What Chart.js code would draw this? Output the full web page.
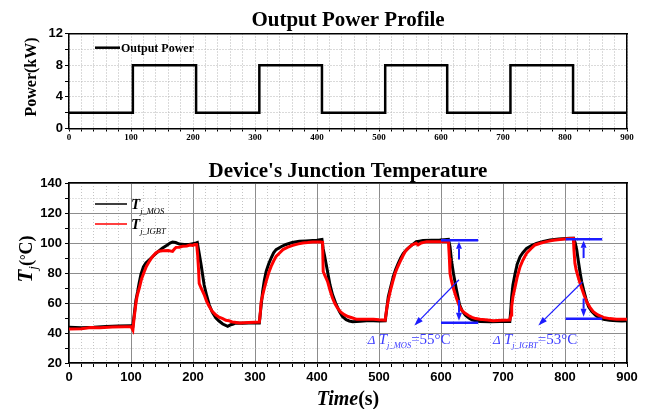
<!DOCTYPE html>
<html>
<head>
<meta charset="utf-8">
<script src="https://cdn.jsdelivr.net/npm/chart.js@4/dist/chart.umd.min.js"></script>
<style>
  html, body { margin: 0; padding: 0; background: #fff; width: 649px; height: 409px; overflow: hidden; }
  canvas { position: absolute; left: 0; }
  #power { top: 0; }
  #temp { top: 145px; }
</style>
</head>
<body>
<canvas id="power" width="649" height="145"></canvas>
<canvas id="temp" width="649" height="264"></canvas>
<script>
// ---- Output power profile (kW), step changes in time (s) ----
const powerTime = [0, 103, 103, 205, 205, 307, 307, 408, 408, 510, 510, 610, 610, 712, 712, 813, 813, 900];
const powerKW   = [2, 2, 8, 8, 2, 2, 8, 8, 2, 2, 8, 8, 2, 2, 8, 8, 2, 2];

// ---- Junction temperature of the MOSFET (°C) ----
const mosTime = [0, 20, 40, 60, 80, 100, 103, 106, 108, 110.8, 113, 116, 120, 124, 130, 135, 143, 151, 158, 163, 167, 172, 178, 186, 194, 200, 205, 207,
  210, 213, 218, 222, 226, 231, 237, 242, 248, 256, 261, 265, 269, 280, 290, 299, 307,
  309, 312.4, 315, 318, 322, 326, 330, 334, 342, 350, 360, 371.5, 382, 393, 400, 408,
  410, 412, 417, 421, 425, 430, 436, 441, 447, 452, 457.5, 470, 480, 491, 500, 510,
  512.5, 515, 519, 523, 527, 531, 535, 539, 545, 550, 555, 560, 565, 571, 585, 598, 605, 612,
  614.5, 617, 620, 625, 630, 634, 639, 645, 650, 657, 663, 680, 695, 711,
  712.5, 714, 716, 719.6, 723, 727.6, 732, 738, 746, 754, 765, 776, 790, 808, 814,
  816.5, 819, 821.5, 824.5, 827, 830, 834, 838, 843, 849, 855, 862, 872, 883, 892, 900];
const mosTemp = [43.8, 43.5, 43.8, 44.3, 44.6, 44.8, 44.5, 55, 62, 67.8, 73, 79, 84, 86.7, 89, 91, 94, 96.7, 98.5, 100, 100.7, 100.3, 99.3, 99, 99, 99.6, 100, 100.3,
  93, 85.6, 72, 65, 59, 54, 50, 48, 46, 44.4, 45.5, 46, 46.7, 46.5, 46.6, 46.7, 46.7,
  55, 67.8, 75, 81, 86, 90, 93.5, 95.6, 97.5, 99, 100.3, 101.1, 101.3, 101.6, 101.8, 102.4,
  96, 92, 81, 72, 65.6, 60, 54.4, 51, 48.9, 48, 47.5, 47.8, 48.2, 48.2, 48, 48.2,
  56, 64.2, 71, 77.6, 82.5, 86.4, 90, 93, 95.8, 97.6, 99.3, 100.9, 101.2, 101.6, 101.8, 102, 102.2, 102.4,
  97.6, 88, 79.8, 68.7, 58.7, 55, 52, 50, 48.7, 48, 47.6, 47.5, 47.6, 47.6,
  55, 64.2, 72, 79.8, 86, 90.9, 93.5, 96.4, 98.3, 99.8, 101, 102, 102.6, 103.1, 103.1,
  100, 95.3, 88, 79.8, 74, 68.7, 62.5, 57.6, 54.5, 52, 50.3, 49.1, 48.5, 48.2, 48, 48.2];

// ---- Junction temperature of the IGBT (°C) ----
const igbtTime = [0, 20, 35, 50, 70, 90, 100, 103, 105, 108, 110, 113.4, 117, 121.5, 125, 129.6, 134, 140, 145, 151, 160, 167, 170, 172.6, 178, 183, 190, 195, 199.5, 203, 206,
  207.5, 209, 210, 213, 218, 222, 226, 231, 237, 242, 248, 253, 258, 262, 264, 270, 275, 290, 300, 307,
  308.5, 310, 314, 318, 322, 326, 330, 334, 340, 345, 353, 361, 370, 377, 385, 393, 400, 406, 409,
  410, 413, 417, 421, 425, 429, 433, 438, 444, 450, 457.5, 464, 475, 491, 500, 510,
  512.5, 515, 518, 522, 526, 530, 534, 538, 542, 547, 553, 560, 563, 568, 577, 590, 598, 605, 612,
  613.5, 614.5, 617, 620, 625, 630, 634, 639, 645, 650, 656, 663, 675, 684, 698, 711,
  713, 714, 716, 719.6, 723, 727.6, 732, 738, 745, 751.6, 760, 770, 781, 792, 803, 813.5,
  814.5, 816, 818, 821, 824, 827, 831, 835, 840, 845.5, 853, 862, 872, 883, 892, 900];
const igbtTemp = [42.7, 42.8, 43.6, 43.5, 44, 44.2, 44.3, 42, 50, 60, 65, 70, 76, 81, 84.5, 87.8, 90.5, 93.3, 94.5, 94.9, 95, 94.4, 96, 97.1, 97.2, 97.8, 98, 98.6, 98.4, 99, 98.9,
  92, 82, 73, 70, 65.6, 61, 57.8, 54.5, 52, 50.5, 49.6, 48.5, 48.2, 47.5, 47.3, 47, 46.7, 47, 47.2, 47.3,
  53, 61, 68, 74.4, 80, 84.4, 88, 91, 93.5, 95.6, 97.2, 98.4, 99.4, 100, 100.3, 100.7, 100.6, 100.7, 100.5,
  81, 78, 74.4, 68.5, 63.3, 59.5, 56.7, 54, 52.2, 51, 50, 49.1, 49.1, 49.1, 48.8, 48.6,
  56.4, 62, 67.6, 74, 79.8, 84, 87.6, 91, 94.2, 96.5, 98.7, 99.8, 98.7, 100, 100.9, 100.9, 100.9, 101, 100.9,
  90, 79.8, 74.5, 69.8, 63.1, 57.6, 55, 53.1, 51.5, 50.4, 49.6, 49.1, 48.6, 48.2, 48.5, 48.7,
  52, 57.6, 64, 70.9, 77.5, 84.2, 88.5, 93.1, 96.2, 98.7, 99.8, 100.9, 101.8, 102.4, 102.8, 103.1,
  95, 86.4, 82, 77.6, 73.5, 69.8, 65, 60.9, 57.3, 54.2, 52, 50.4, 49.6, 49.1, 49.2, 49.1];

// ---- Temperature swing markers ----
const swingNames  = ['MOS', 'IGBT'];
const swingValues = [55, 53];            // °C, peak-to-valley
const swingPeak   = [101.8, 102.5];      // °C, upper marker level
const swingSpan   = [[600, 660], [801, 860]];
const swingArrowT = [629, 830];          // s, where the vertical arrows sit
const swingUpFrom = [89, 90];            // °C, tail of the upward arrow
const swingDownFrom = [62, 63];          // °C, tail of the downward arrow
const pointerFrom = [[629, 75.5], [828, 74]];
const pointerTo   = [[557, 45], [757, 45]];
const swingLabelAt = [[482, 36], [684, 36]];

const SERIF = '"Liberation Serif", "Times New Roman", serif';
const SANS = '"Liberation Sans", Arial, sans-serif';
const BLUE = '#1c1cff';
const BLUE_TEXT = '#3b3bff';

// Draw a row of text runs: [text, font, dy, color]
function drawRuns(ctx, x, y, runs, align) {
  ctx.save();
  ctx.textBaseline = 'alphabetic';
  ctx.textAlign = 'left';
  let w = 0;
  runs.forEach(r => { ctx.font = r[1]; w += ctx.measureText(r[0]).width; });
  let cx = align === 'center' ? x - w / 2 : (align === 'right' ? x - w : x);
  runs.forEach(r => {
    ctx.font = r[1];
    ctx.fillStyle = r[3] || '#000';
    ctx.fillText(r[0], cx, y + (r[2] || 0));
    cx += ctx.measureText(r[0]).width;
  });
  ctx.restore();
}

function arrow(ctx, x1, y1, x2, y2, width, headLen, headW, color) {
  const ang = Math.atan2(y2 - y1, x2 - x1);
  const bx = x2 - headLen * Math.cos(ang), by = y2 - headLen * Math.sin(ang);
  ctx.save();
  ctx.strokeStyle = color; ctx.fillStyle = color; ctx.lineWidth = width;
  ctx.beginPath(); ctx.moveTo(x1, y1); ctx.lineTo(bx, by); ctx.stroke();
  ctx.beginPath();
  ctx.moveTo(x2, y2);
  ctx.lineTo(bx + headW / 2 * Math.sin(ang), by - headW / 2 * Math.cos(ang));
  ctx.lineTo(bx - headW / 2 * Math.sin(ang), by + headW / 2 * Math.cos(ang));
  ctx.closePath(); ctx.fill();
  ctx.restore();
}

function hLine(ctx, x1, x2, y, width, color) {
  ctx.save(); ctx.strokeStyle = color; ctx.lineWidth = width;
  ctx.beginPath(); ctx.moveTo(x1, y); ctx.lineTo(x2, y); ctx.stroke(); ctx.restore();
}

const frameAxis = (pos, min, max, size) => ({
  type: 'linear', position: pos, min, max,
  afterFit: s => { if (pos === 'top' || pos === 'bottom') s.height = size; else s.width = size; },
  ticks: { display: false },
  grid: { display: false, drawTicks: false },
  border: { color: '#000', width: 1.5 }
});

// ---------------- Output power chart ----------------
const powerLabels = {
  id: 'powerLabels',
  afterDraw(chart) {
    const { ctx, chartArea: a } = chart;
    const cx = (a.left + a.right) / 2;
    drawRuns(ctx, cx, 26, [['Output Power Profile', `bold 21px ${SERIF}`]], 'center');
    ctx.save(); ctx.translate(35.5, 77); ctx.rotate(-Math.PI / 2);
    drawRuns(ctx, 0, 0, [['Power(kW)', `bold 16px ${SERIF}`]], 'center');
    ctx.restore();
    hLine(ctx, a.left + 26, a.left + 51, a.top + 14.2, 2.5, '#000');
    drawRuns(ctx, a.left + 52, a.top + 18.5, [[chart.data.datasets[0].label, `bold 12px ${SERIF}`]], 'left');
  }
};

new Chart(document.getElementById('power'), {
  type: 'line',
  data: {
    datasets: [{
      label: 'Output Power',
      data: powerTime.map((t, i) => ({ x: t, y: powerKW[i] })),
      borderColor: '#000', borderWidth: 2.5, pointRadius: 0, tension: 0, fill: false
    }]
  },
  options: {
    responsive: false, animation: false, events: [],
    layout: { padding: { top: 33.5, left: 0, right: 0, bottom: 0 } },
    plugins: { legend: { display: false }, title: { display: false }, tooltip: { enabled: false } },
    scales: {
      x: {
        type: 'linear', position: 'bottom', min: 0, max: 900,
        afterFit: s => { s.height = 16.5; },
        ticks: { stepSize: 20, autoSkip: false, maxRotation: 0, padding: 1, color: '#000',
                 font: { family: SERIF, size: 9, weight: 'bold' },
                 callback: v => (v % 100 === 0 ? v : '') },
        grid: { color: '#b4b4b4', lineWidth: 1, tickLength: 3, tickColor: '#000', tickWidth: 1 },
        border: { color: '#000', width: 1.5, dash: [1, 2] }
      },
      y: {
        type: 'linear', position: 'left', min: 0, max: 12,
        afterFit: s => { s.width = 69; },
        ticks: { stepSize: 2, autoSkip: false, padding: 2, color: '#000',
                 font: { family: SANS, size: 13, weight: 'bold' },
                 callback: v => (v % 4 === 0 ? v : '') },
        grid: { color: '#b4b4b4', lineWidth: 1, tickLength: 4, tickColor: '#000', tickWidth: 1 },
        border: { color: '#000', width: 1.5, dash: [1, 2] }
      },
      x2: frameAxis('top', 0, 900, 0),
      y2: frameAxis('right', 0, 12, 22)
    }
  },
  plugins: [powerLabels]
});

// ---------------- Junction temperature chart ----------------
const tempLabels = {
  id: 'tempLabels',
  afterDraw(chart) {
    const { ctx, chartArea: a, scales } = chart;
    const X = v => scales.x.getPixelForValue(v);
    const Y = v => scales.y.getPixelForValue(v);
    const cx = (a.left + a.right) / 2;

    drawRuns(ctx, cx, 32, [["Device's Junction Temperature", `bold 21px ${SERIF}`]], 'center');
    drawRuns(ctx, cx, 260, [['Time', `italic bold 20px ${SERIF}`], ['(s)', `bold 20px ${SERIF}`]], 'center');

    ctx.save(); ctx.translate(32, 114); ctx.rotate(-Math.PI / 2);
    drawRuns(ctx, 0, 0, [
      ['T', `italic bold 21px ${SERIF}`],
      ['j', `italic 13px ${SERIF}`, 5],
      ['(', `bold 18px ${SERIF}`],
      ['°', `bold 14px ${SERIF}`, -2],
      ['C)', `bold 18px ${SERIF}`]
    ], 'center');
    ctx.restore();

    // legend
    const ds = chart.data.datasets;
    const legendRows = [[ds[1], 21], [ds[0], 41]];
    legendRows.forEach(([d, dy]) => {
      hLine(ctx, a.left + 26, a.left + 58, a.top + dy, 1.5, d.borderColor);
      drawRuns(ctx, a.left + 62, a.top + dy + 5, [
        ['T', `italic bold 15px ${SERIF}`],
        [d.sub, `italic 8.5px ${SERIF}`, 5]
      ], 'left');
    });

    // swing arrows and labels
    swingNames.forEach((name, i) => {
      const top = swingPeak[i], bottom = swingPeak[i] - swingValues[i];
      const ax = X(swingArrowT[i]);
      arrow(ctx, ax, Y(swingUpFrom[i]), ax, Y(top) + 1.5, 2, 7, 6, BLUE);
      arrow(ctx, ax, Y(swingDownFrom[i]), ax, Y(bottom) - 2, 2, 8, 6, BLUE);
      arrow(ctx, X(pointerFrom[i][0]), Y(pointerFrom[i][1]), X(pointerTo[i][0]), Y(pointerTo[i][1]), 1.2, 9, 6, BLUE);
      drawRuns(ctx, X(swingLabelAt[i][0]), Y(swingLabelAt[i][1]) + 5, [
        ['Δ ', `italic 13px ${SERIF}`, 0, BLUE_TEXT],
        ['T', `italic 15px ${SERIF}`, 0, BLUE_TEXT],
        ['j_' + name, `italic 8.5px ${SERIF}`, 4, BLUE_TEXT],
        ['=' + swingValues[i] + '°C', `15px ${SERIF}`, 0, BLUE_TEXT]
      ], 'left');
    });
  }
};

const swingLineSets = [];
swingNames.forEach((name, i) => {
  [swingPeak[i], swingPeak[i] - swingValues[i]].forEach(level => {
    swingLineSets.push({
      label: 'swing ' + name,
      data: swingSpan[i].map(t => ({ x: t, y: level })),
      borderColor: BLUE, borderWidth: 2.5, pointRadius: 0, tension: 0, fill: false, order: -1
    });
  });
});

const isMajor = (c, step) => c.tick && c.tick.value % step === 0;

new Chart(document.getElementById('temp'), {
  type: 'line',
  data: {
    datasets: [
      { label: 'T_j_IGBT', sub: 'j_IGBT', data: igbtTime.map((t, i) => ({ x: t, y: igbtTemp[i] })),
        borderColor: '#ff0000', borderWidth: 3, pointRadius: 0, tension: 0, fill: false, order: 0 },
      { label: 'T_j_MOS', sub: 'j_MOS', data: mosTime.map((t, i) => ({ x: t, y: mosTemp[i] })),
        borderColor: '#000000', borderWidth: 3, pointRadius: 0, tension: 0, fill: false, order: 1 },
      ...swingLineSets
    ]
  },
  options: {
    responsive: false, animation: false, events: [],
    layout: { padding: { top: 38, left: 0, right: 0, bottom: 0 } },
    plugins: { legend: { display: false }, title: { display: false }, tooltip: { enabled: false } },
    scales: {
      x: {
        type: 'linear', position: 'bottom', min: 0, max: 900,
        afterFit: s => { s.height = 46; },
        ticks: { stepSize: 20, autoSkip: false, maxRotation: 0, padding: 3, color: '#000',
                 font: { family: SANS, size: 13, weight: 'bold' },
                 callback: v => (v % 100 === 0 ? v : '') },
        grid: { color: c => (isMajor(c, 100) ? '#8c8c8c' : '#c4c4c4'), lineWidth: 1,
                tickLength: 4, tickColor: '#000', tickWidth: 1 },
        border: { color: '#000', width: 1.5, dash: c => (c.tick && !isMajor(c, 100) ? [1, 2] : []) }
      },
      y: {
        type: 'linear', position: 'left', min: 20, max: 140,
        afterFit: s => { s.width = 69; },
        ticks: { stepSize: 10, autoSkip: false, padding: 3, color: '#000',
                 font: { family: SANS, size: 13, weight: 'bold' },
                 callback: v => (v % 20 === 0 ? v : '') },
        grid: { color: c => (isMajor(c, 20) ? '#8c8c8c' : '#c4c4c4'), lineWidth: 1,
                tickLength: 4, tickColor: '#000', tickWidth: 1 },
        border: { color: '#000', width: 1.5, dash: c => (c.tick && !isMajor(c, 20) ? [1, 2] : []) }
      },
      x2: frameAxis('top', 0, 900, 0),
      y2: frameAxis('right', 20, 140, 22)
    }
  },
  plugins: [tempLabels]
});
</script>
</body>
</html>
